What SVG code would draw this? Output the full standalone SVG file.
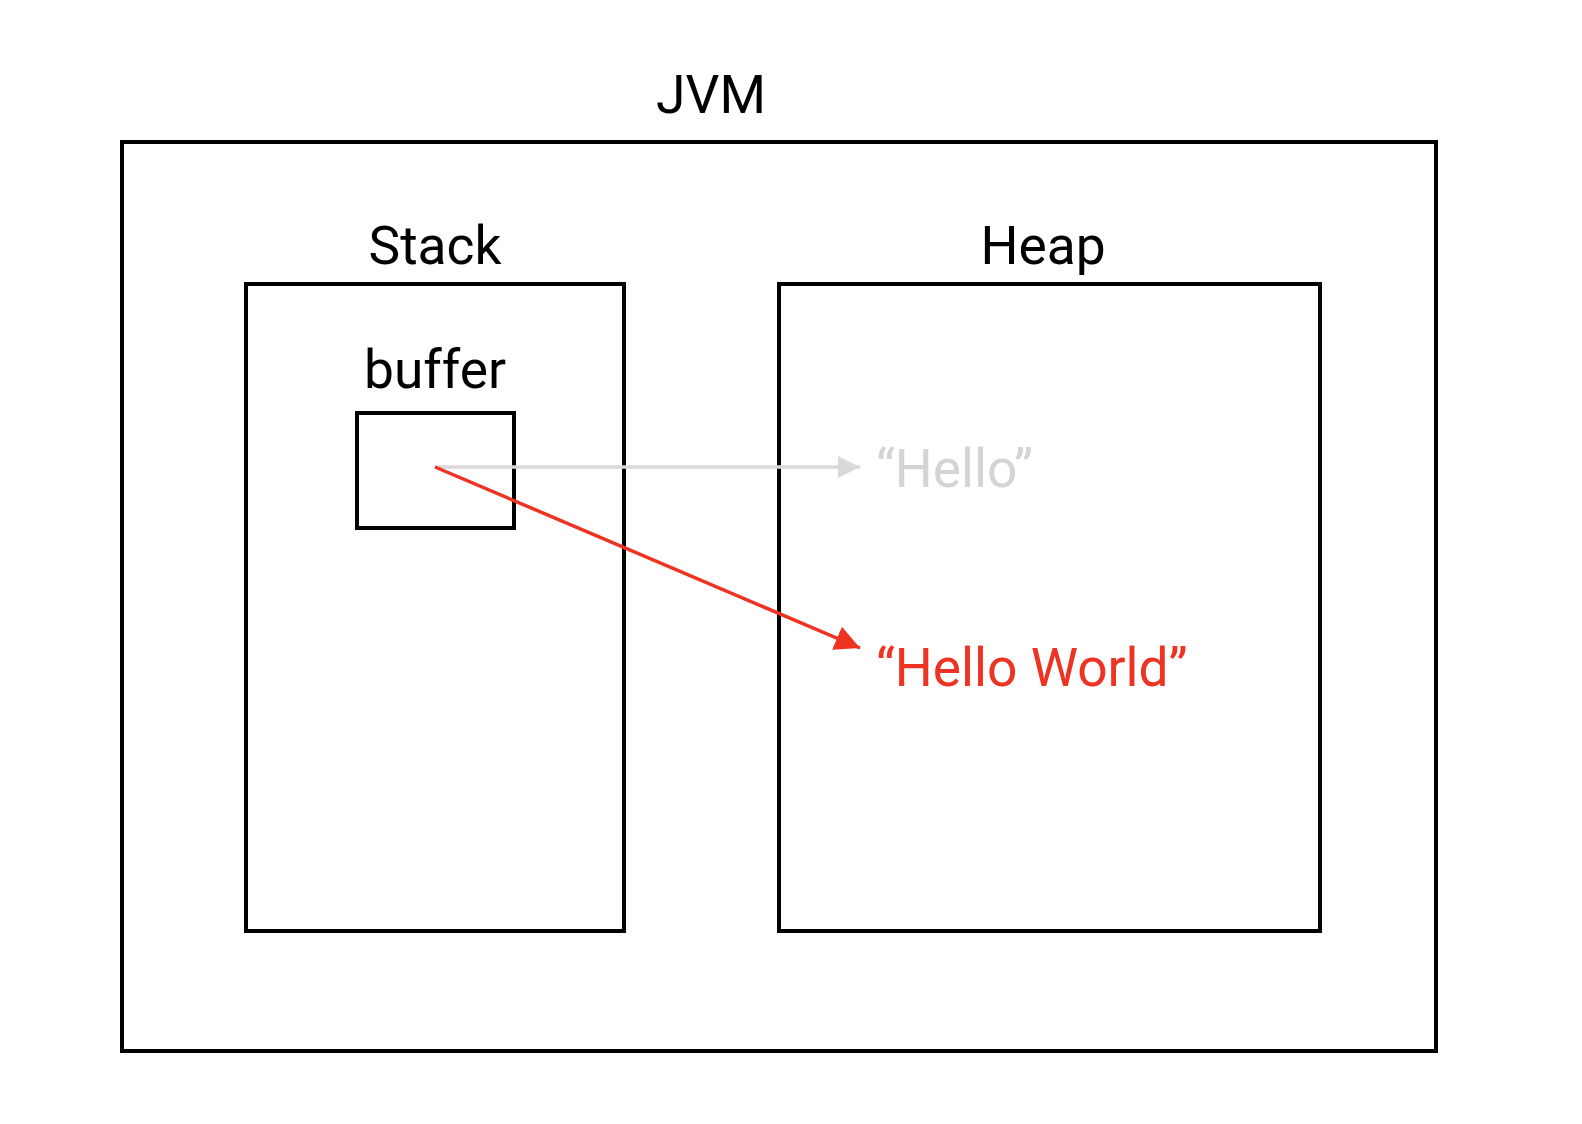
<svg xmlns="http://www.w3.org/2000/svg" width="1582" height="1124" viewBox="0 0 1582 1124">
<style>
.box{fill:none;stroke:#000;stroke-width:4}
.lbl{font-family:Roboto,"Liberation Sans",sans-serif;font-size:53.3px;fill:#000;text-anchor:middle}
.val{font-family:Roboto,"Liberation Sans",sans-serif;font-size:53.3px}
</style>
<defs>
<marker id="ag" viewBox="0 0 10 10" refX="10" refY="5" markerWidth="22" markerHeight="22" markerUnits="userSpaceOnUse" orient="auto"><path d="M0,0 L10,5 L0,10 z" fill="#d9d9d9"/></marker>
<marker id="ar" viewBox="0 0 10 10" refX="10" refY="5" markerWidth="25" markerHeight="25" markerUnits="userSpaceOnUse" orient="auto"><path d="M0,0 L10,5 L0,10 z" fill="#ee3322"/></marker>
</defs>
<rect width="1582" height="1124" fill="#fff"/>
<g id="jvm"><rect class="box" x="122" y="142" width="1314" height="909"/><text class="lbl" x="711" y="113">JVM</text></g>
<g id="stack"><rect class="box" x="246" y="284" width="378" height="647"/><text class="lbl" x="435" y="264">Stack</text></g>
<g id="heap"><rect class="box" x="779" y="284" width="541" height="647"/><text class="lbl" x="1043" y="264">Heap</text></g>
<g id="buffer"><rect class="box" x="357" y="413" width="157" height="115"/><text class="lbl" x="435" y="388">buffer</text></g>
<g id="connectors">
<line x1="435" y1="467" x2="860" y2="467" stroke="#d9d9d9" stroke-width="3.5" marker-end="url(#ag)"/>
<line x1="435" y1="467" x2="860" y2="648" stroke="#ee3322" stroke-width="3.5" marker-end="url(#ar)"/>
</g>
<g id="hello"><text class="val" x="876" y="487" fill="#d4d4d4">“Hello”</text></g>
<g id="helloworld"><text class="val" x="876" y="686" fill="#ee3322">“Hello World”</text></g>
</svg>
